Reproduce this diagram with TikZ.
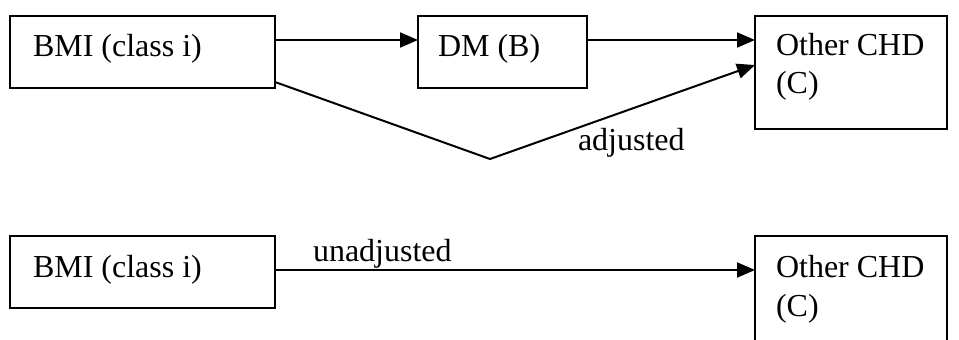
\documentclass[tikz,border=0pt]{standalone}
\usepackage{fontspec}
\setmainfont{Liberation Serif}
\usetikzlibrary{arrows.meta}
\begin{document}
\begin{tikzpicture}[x=1pt,y=-1pt,line width=2pt,
  box/.style={draw,rectangle,anchor=north west,inner sep=0pt,outer sep=0pt},
  txt/.style={anchor=base west,inner sep=0pt,font=\fontsize{32}{37}\selectfont},
  arr/.style={-{Triangle[length=18pt,width=15pt]}}]
\useasboundingbox (0,0) rectangle (959,340);
\clip (0,0) rectangle (959,340);

% upper path diagram
\node[box,minimum width=265pt,minimum height=72pt] (bmiA) at (10,16) {};
\node[box,minimum width=169pt,minimum height=72pt] (dm) at (418,16) {};
\node[box,minimum width=192pt,minimum height=113pt] (chdA) at (755,16) {};
\node[txt] (tbmiA) at (32,56) {BMI (class i)};
\node[txt] (tdm) at (437,56) {DM (B)};
\node[txt] (tchdA) at (775,55) {Other CHD};
\node[txt] (tcA) at (775,93) {(C)};

\draw[arr] ([yshift=-24pt]bmiA.north east) -- ([yshift=-24pt]dm.north west);
\draw[arr] ([yshift=-24pt]dm.north east) -- ([yshift=-24pt]chdA.north west);
\coordinate (bend) at (490,159);
\draw[arr] ([yshift=-66pt]bmiA.north east) -- (bend) -- ([yshift=-49pt]chdA.north west);
\node[txt] (adj) at (577,150) {adjusted};

% lower path diagram
\node[box,minimum width=265pt,minimum height=72pt] (bmiB) at (10,236) {};
\node[box,minimum width=192pt,minimum height=120pt] (chdB) at (755,236) {};
\node[txt] (tbmiB) at (32,277) {BMI (class i)};
\node[txt] (tchdB) at (775,277) {Other CHD};
\node[txt] (tcB) at (775,316) {(C)};

\draw[arr] ([yshift=-34pt]bmiB.north east) -- ([yshift=-34pt]chdB.north west);
\node[txt] (unadj) at (312,261) {unadjusted};
\end{tikzpicture}
\end{document}
